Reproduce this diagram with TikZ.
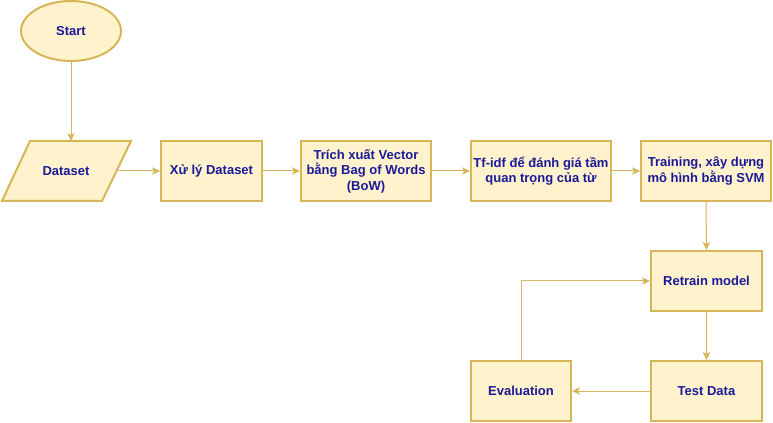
\documentclass[tikz,border=0pt]{standalone}
\usepackage{fontspec}
\setmainfont{Liberation Sans}
\usetikzlibrary{arrows.meta,shapes.geometric}
\definecolor{boxfill}{HTML}{FFF2CC}
\definecolor{boxdraw}{HTML}{D6B656}
\definecolor{txt}{HTML}{1A1A99}
\begin{document}
\begin{tikzpicture}[x=0.75pt,y=-0.75pt,
  base/.style={draw=boxdraw,fill=boxfill,line width=1.5pt,text=txt,font=\fontsize{9.75}{11.6}\selectfont\bfseries,align=center,inner sep=0pt},
  proc/.style={base,rectangle,minimum height=45pt},
  conn/.style={draw=boxdraw,line width=0.75pt,-{Stealth[length=6pt,width=5.5pt,inset=1.5pt]}}]
\useasboundingbox (0,0) rectangle (773,423);
\node[base,ellipse,minimum width=75pt,minimum height=45pt] (start) at (71,31) {Start};
\draw[draw=boxdraw,fill=boxfill,line width=1.5pt,line join=miter] (30,141) -- (131,141) -- (102,201) -- (2,201) -- cycle;
\node[text=txt,font=\fontsize{9.75}{11.6}\selectfont\bfseries,inner sep=0pt] (data) at (66,171) {Dataset};
\node[proc,minimum width=75.75pt] (xl) at (211.5,171) {Xử lý Dataset};
\node[proc,minimum width=97.5pt] (tx) at (366,171) {Trích xuất Vector\\bằng Bag of Words\\(BoW)};
\node[proc,minimum width=105pt] (tf) at (541,171) {Tf-idf để đánh giá tầm\\quan trọng của từ};
\node[proc,minimum width=97.5pt] (tr) at (706,171) {Training, xây dựng\\mô hình bằng SVM};
\node[proc,minimum width=83.25pt] (re) at (706.5,281) {Retrain model};
\node[proc,minimum width=83.25pt] (td) at (706.5,391) {Test Data};
\node[proc,minimum width=75pt] (ev) at (521,391) {Evaluation};
\coordinate (dtop) at (71,141);
\coordinate (dright) at (117,171);
\draw[conn] (start.south) -- (dtop);
\draw[conn] (dright) -- (xl.west);
\draw[conn] (xl.east) -- (tx.west);
\draw[conn] (tx.east) -- (tf.west);
\draw[conn] (tf.east) -- (tr.west);
\draw[conn] (tr.south) -- (re.north);
\draw[conn] (re.south) -- (td.north);
\draw[conn] (td.west) -- (ev.east);
\draw[conn] (ev.north) |- (re.west);
\end{tikzpicture}
\end{document}
